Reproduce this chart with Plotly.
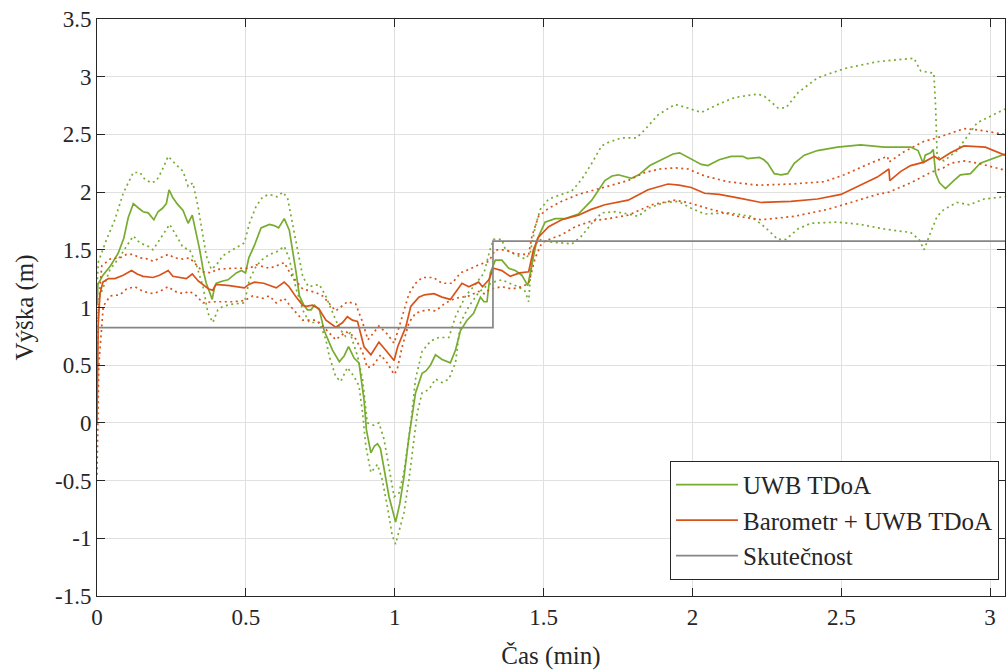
import plotly.graph_objects as go

# --- UWB TDoA estimate (min, m) ---
t_uwb = [0.0, 0.003, 0.02, 0.045, 0.071, 0.09, 0.105, 0.122, 0.14, 0.155, 0.172, 0.191, 0.205, 0.22, 0.233,
         0.242, 0.255, 0.269, 0.289, 0.306, 0.32, 0.333, 0.345, 0.357, 0.367, 0.38, 0.387, 0.395, 0.401, 0.423,
         0.44, 0.468, 0.485, 0.499, 0.51, 0.529, 0.551, 0.579, 0.595, 0.61, 0.629, 0.646, 0.657, 0.669, 0.68,
         0.695, 0.707, 0.719, 0.73, 0.747, 0.763, 0.78, 0.791, 0.814, 0.83, 0.845, 0.864, 0.88, 0.897, 0.905,
         0.92, 0.932, 0.942, 0.952, 0.964, 0.981, 1.003, 1.017, 1.031, 1.048, 1.07, 1.092, 1.105, 1.12, 1.137,
         1.159, 1.187, 1.204, 1.221, 1.243, 1.265, 1.288, 1.3, 1.31, 1.321, 1.338, 1.36, 1.383, 1.405, 1.427,
         1.447, 1.461, 1.477, 1.505, 1.539, 1.573, 1.617, 1.662, 1.706, 1.73, 1.751, 1.795, 1.82, 1.857, 1.895,
         1.935, 1.957, 1.996, 2.03, 2.052, 2.09, 2.13, 2.169, 2.185, 2.225, 2.24, 2.253, 2.275, 2.298, 2.32,
         2.342, 2.376, 2.42, 2.487, 2.565, 2.644, 2.733, 2.758, 2.775, 2.782, 2.8, 2.809, 2.817, 2.83, 2.85,
         2.878, 2.9, 2.934, 2.967, 3.05]
h_uwb = [1.02, 1.2, 1.28, 1.36, 1.47, 1.6, 1.78, 1.9, 1.86, 1.83, 1.82, 1.76, 1.83, 1.86, 1.9,
         2.02, 1.95, 1.9, 1.84, 1.73, 1.8, 1.65, 1.5, 1.32, 1.21, 1.12, 1.07, 1.18, 1.21, 1.23,
         1.24, 1.3, 1.32, 1.3, 1.43, 1.54, 1.69, 1.72, 1.71, 1.69, 1.77, 1.67, 1.5, 1.3, 1.1,
         1.02, 0.98, 0.98, 1.02, 0.98, 0.8, 0.7, 0.63, 0.53, 0.58, 0.66, 0.56, 0.52, 0.2, -0.06,
         -0.26, -0.2, -0.18, -0.22, -0.38, -0.64, -0.86, -0.7, -0.47, -0.12, 0.26, 0.43, 0.45, 0.5, 0.59,
         0.55, 0.52, 0.63, 0.8, 0.89, 0.95, 1.09, 1.05, 1.05, 1.3, 1.41, 1.41, 1.34, 1.32, 1.28,
         1.19, 1.38, 1.58, 1.74, 1.77, 1.77, 1.81, 1.93, 2.1, 2.14, 2.15, 2.12, 2.15, 2.23, 2.28,
         2.33, 2.34, 2.29, 2.24, 2.23, 2.28, 2.31, 2.31, 2.29, 2.3, 2.28, 2.25, 2.16, 2.15, 2.16,
         2.25, 2.32, 2.36, 2.39, 2.41, 2.39, 2.39, 2.36, 2.25, 2.32, 2.34, 2.37, 2.16, 2.08, 2.03,
         2.1, 2.15, 2.16, 2.25, 2.33]

# upper / lower bound of the UWB estimate
t_uwb_hi = [0.0, 0.004, 0.032, 0.06, 0.088, 0.122, 0.144, 0.161, 0.183, 0.2, 0.217, 0.239, 0.261, 0.289,
            0.306, 0.322, 0.339, 0.356, 0.367, 0.384, 0.401, 0.423, 0.456, 0.495, 0.512, 0.535, 0.557, 0.579,
            0.605, 0.624, 0.64, 0.663, 0.691, 0.71, 0.747, 0.77, 0.802, 0.82, 0.835, 0.85, 0.875, 0.892, 0.908,
            0.93, 0.947, 0.964, 0.981, 0.998, 1.014, 1.031, 1.054, 1.07, 1.092, 1.121, 1.148, 1.182, 1.204,
            1.238, 1.271, 1.3, 1.32, 1.332, 1.36, 1.372, 1.405, 1.438, 1.455, 1.472, 1.489, 1.517, 1.561,
            1.595, 1.628, 1.662, 1.695, 1.717, 1.762, 1.812, 1.84, 1.885, 1.941, 1.97, 2.03, 2.086, 2.142,
            2.22, 2.242, 2.287, 2.314, 2.354, 2.42, 2.51, 2.621, 2.744, 2.767, 2.811, 2.817, 2.822, 2.845,
            2.889, 2.956, 3.05]
h_uwb_hi = [1.15, 1.39, 1.59, 1.76, 1.99, 2.17, 2.17, 2.11, 2.08, 2.1, 2.18, 2.31, 2.25, 2.18,
            2.05, 2.08, 1.88, 1.62, 1.45, 1.33, 1.37, 1.45, 1.5, 1.56, 1.73, 1.88, 1.96, 1.98,
            1.96, 2.0, 1.95, 1.64, 1.27, 1.18, 1.2, 1.09, 0.89, 0.8, 0.75, 0.78, 0.58, 0.38, 0.0,
            -0.02, 0.0, -0.14, -0.38, -0.64, -0.61, -0.43, 0.0, 0.38, 0.62, 0.71, 0.74, 0.74, 0.92,
            1.1, 1.2, 1.3, 1.5, 1.59, 1.59, 1.5, 1.46, 1.42, 1.47, 1.7, 1.85, 1.94, 1.98,
            2.01, 2.11, 2.25, 2.4, 2.43, 2.47, 2.47, 2.54, 2.67, 2.76, 2.74, 2.69, 2.76, 2.82,
            2.85, 2.83, 2.73, 2.73, 2.86, 2.99, 3.07, 3.13, 3.16, 3.05, 3.03, 2.74, 2.31, 2.27,
            2.36, 2.6, 2.72]
t_uwb_lo = [0.0, 0.01, 0.044, 0.077, 0.099, 0.122, 0.144, 0.172, 0.188, 0.211, 0.244, 0.267, 0.289, 0.311,
            0.334, 0.356, 0.373, 0.389, 0.406, 0.423, 0.456, 0.495, 0.512, 0.535, 0.557, 0.579, 0.602, 0.629,
            0.646, 0.669, 0.691, 0.713, 0.747, 0.769, 0.78, 0.802, 0.819, 0.841, 0.864, 0.88, 0.892, 0.903,
            0.92, 0.942, 0.958, 0.975, 0.992, 1.003, 1.014, 1.031, 1.048, 1.065, 1.076, 1.092, 1.115, 1.137,
            1.159, 1.182, 1.204, 1.221, 1.249, 1.282, 1.305, 1.33, 1.36, 1.394, 1.416, 1.438, 1.45, 1.455,
            1.466, 1.483, 1.517, 1.561, 1.595, 1.628, 1.662, 1.695, 1.74, 1.784, 1.818, 1.851, 1.907, 1.952,
            1.996, 2.041, 2.119, 2.197, 2.242, 2.287, 2.314, 2.354, 2.398, 2.487, 2.565, 2.644, 2.733, 2.761,
            2.778, 2.8, 2.822, 2.845, 2.889, 2.93, 2.979, 3.05]
h_uwb_lo = [0.9, 1.1, 1.33, 1.44, 1.53, 1.62, 1.56, 1.53, 1.5, 1.59, 1.72, 1.62, 1.52, 1.5,
            1.37, 1.18, 0.95, 0.87, 0.98, 1.01, 1.03, 1.04, 1.24, 1.36, 1.42, 1.46, 1.48, 1.53,
            1.42, 1.16, 0.98, 0.87, 0.87, 0.72, 0.58, 0.4, 0.36, 0.48, 0.4, 0.32, 0.09, -0.2,
            -0.43, -0.36, -0.49, -0.72, -0.98, -1.05, -0.95, -0.78, -0.49, -0.14, 0.09, 0.26, 0.29, 0.38,
            0.35, 0.38, 0.52, 0.87, 1.01, 1.13, 1.18, 1.22, 1.24, 1.2, 1.18, 1.14, 1.05, 1.24,
            1.5, 1.59, 1.57, 1.56, 1.55, 1.62, 1.73, 1.82, 1.83, 1.81, 1.79, 1.86, 1.91, 1.92,
            1.86, 1.81, 1.82, 1.79, 1.7, 1.59, 1.59, 1.68, 1.73, 1.74, 1.72, 1.68, 1.65, 1.59,
            1.5, 1.65, 1.79, 1.85, 1.91, 1.89, 1.94, 1.96]

# --- Barometer + UWB TDoA fusion estimate ---
t_baro = [0.0, 0.004, 0.01, 0.02, 0.038, 0.06, 0.088, 0.116, 0.135, 0.155, 0.188, 0.21, 0.239, 0.255, 0.3,
          0.32, 0.34, 0.356, 0.375, 0.389, 0.4, 0.445, 0.495, 0.51, 0.529, 0.56, 0.602, 0.629, 0.645, 0.669,
          0.691, 0.702, 0.724, 0.745, 0.769, 0.802, 0.825, 0.841, 0.858, 0.875, 0.897, 0.92, 0.947, 0.97,
          0.998, 1.01, 1.037, 1.054, 1.081, 1.1, 1.132, 1.159, 1.187, 1.226, 1.249, 1.282, 1.295, 1.316,
          1.332, 1.36, 1.388, 1.42, 1.45, 1.466, 1.483, 1.517, 1.561, 1.617, 1.66, 1.706, 1.751, 1.784,
          1.851, 1.918, 1.955, 1.996, 2.041, 2.09, 2.153, 2.231, 2.331, 2.42, 2.499, 2.565, 2.621, 2.66,
          2.663, 2.7, 2.733, 2.778, 2.813, 2.83, 2.867, 2.912, 2.984, 3.05]
h_baro = [0.0, 0.85, 1.12, 1.22, 1.25, 1.25, 1.28, 1.32, 1.29, 1.27, 1.26, 1.28, 1.32, 1.27, 1.25,
          1.29, 1.23, 1.2, 1.16, 1.15, 1.2, 1.19, 1.17, 1.2, 1.22, 1.21, 1.17, 1.22, 1.18, 1.09,
          1.02, 1.01, 1.02, 0.99, 0.89, 0.83, 0.87, 0.92, 0.89, 0.88, 0.66, 0.59, 0.7, 0.63,
          0.54, 0.66, 0.83, 1.01, 1.09, 1.11, 1.12, 1.09, 1.07, 1.21, 1.18, 1.22, 1.18, 1.24,
          1.34, 1.32, 1.27, 1.3, 1.31, 1.5, 1.61, 1.7, 1.76, 1.8, 1.85, 1.89, 1.91, 1.93,
          2.02, 2.07, 2.06, 2.04, 1.99, 1.98, 1.95, 1.91, 1.92, 1.94, 1.98, 2.06, 2.13, 2.2,
          2.1, 2.18, 2.23, 2.26, 2.31, 2.28, 2.34, 2.4, 2.39, 2.32]

t_baro_hi = [0.0, 0.005, 0.016, 0.044, 0.077, 0.099, 0.122, 0.144, 0.172, 0.188, 0.211, 0.239, 0.261,
             0.289, 0.311, 0.334, 0.356, 0.384, 0.401, 0.456, 0.512, 0.535, 0.579, 0.602, 0.629, 0.65,
             0.691, 0.735, 0.758, 0.802, 0.841, 0.869, 0.891, 0.91, 0.947, 0.975, 0.998, 1.025, 1.048,
             1.07, 1.092, 1.13, 1.159, 1.193, 1.221, 1.249, 1.282, 1.316, 1.338, 1.372, 1.4, 1.427, 1.45,
             1.461, 1.483, 1.517, 1.561, 1.617, 1.673, 1.717, 1.784, 1.84, 1.89, 1.941, 1.985, 2.041,
             2.119, 2.22, 2.331, 2.443, 2.51, 2.588, 2.655, 2.66, 2.711, 2.778, 2.822, 2.867, 2.912,
             2.956, 3.05]
h_baro_hi = [0.35, 1.0, 1.36, 1.42, 1.43, 1.46, 1.46, 1.43, 1.42, 1.4, 1.43, 1.46, 1.43,
             1.42, 1.43, 1.37, 1.31, 1.3, 1.33, 1.34, 1.34, 1.37, 1.34, 1.36, 1.39, 1.29,
             1.16, 1.13, 1.1, 0.97, 1.05, 1.03, 0.88, 0.72, 0.84, 0.77, 0.69, 0.92, 1.12,
             1.21, 1.26, 1.26, 1.21, 1.21, 1.3, 1.33, 1.37, 1.4, 1.5, 1.5, 1.47, 1.46, 1.46,
             1.62, 1.79, 1.86, 1.92, 1.98, 2.02, 2.05, 2.1, 2.17, 2.2, 2.21, 2.2, 2.14,
             2.09, 2.06, 2.07, 2.09, 2.15, 2.24, 2.31, 2.26, 2.35, 2.44, 2.47, 2.51, 2.55,
             2.54, 2.5]
t_baro_lo = [0.0, 0.006, 0.021, 0.044, 0.077, 0.099, 0.127, 0.155, 0.188, 0.211, 0.239, 0.261, 0.289,
             0.311, 0.334, 0.356, 0.389, 0.456, 0.495, 0.523, 0.557, 0.579, 0.602, 0.629, 0.65, 0.691,
             0.735, 0.758, 0.802, 0.836, 0.864, 0.891, 0.908, 0.925, 0.953, 0.975, 0.998, 1.008, 1.025,
             1.048, 1.07, 1.092, 1.115, 1.137, 1.171, 1.204, 1.249, 1.282, 1.3, 1.32, 1.36, 1.394, 1.427,
             1.45, 1.472, 1.494, 1.528, 1.561, 1.606, 1.662, 1.717, 1.784, 1.863, 1.941, 1.985, 2.063,
             2.153, 2.231, 2.342, 2.454, 2.532, 2.621, 2.66, 2.733, 2.8, 2.843, 2.867, 2.912, 2.96, 3.05]
h_baro_lo = [-0.45, 0.5, 1.01, 1.1, 1.11, 1.16, 1.18, 1.14, 1.12, 1.14, 1.18, 1.14, 1.12,
             1.14, 1.1, 1.04, 1.05, 1.05, 1.06, 1.1, 1.08, 1.1, 1.04, 1.08, 1.01, 0.89,
             0.89, 0.84, 0.72, 0.79, 0.75, 0.62, 0.48, 0.49, 0.59, 0.52, 0.42, 0.46, 0.66,
             0.87, 0.95, 0.97, 0.98, 0.97, 1.04, 1.08, 1.1, 1.14, 1.12, 1.16, 1.18, 1.16, 1.18,
             1.21, 1.43, 1.56, 1.6, 1.63, 1.7, 1.75, 1.77, 1.8, 1.89, 1.93, 1.91, 1.85,
             1.79, 1.76, 1.79, 1.85, 1.91, 1.98, 2.0, 2.08, 2.17, 2.21, 2.25, 2.27, 2.25, 2.19]

# --- reference height (ground truth) ---
t_true = [0.0, 1.33, 1.33, 3.05]
h_true = [0.825, 0.825, 1.575, 1.575]

# axis ticks
x_ticks = [0, 0.5, 1, 1.5, 2, 2.5, 3]
x_labels = ["0", "0.5", "1", "1.5", "2", "2.5", "3"]
y_ticks = [-1.5, -1, -0.5, 0, 0.5, 1, 1.5, 2, 2.5, 3, 3.5]
y_labels = ["-1.5", "-1", "-0.5", "0", "0.5", "1", "1.5", "2", "2.5", "3", "3.5"]

GREEN = "#77AC30"
ORANGE = "#D95319"
GREY = "#868686"
DOTS = "2px,3.5px"
INK = "#262626"

fig = go.Figure()

for t, h in [(t_uwb_hi, h_uwb_hi), (t_uwb_lo, h_uwb_lo)]:
    fig.add_trace(go.Scatter(x=t, y=h, mode="lines", showlegend=False, hoverinfo="skip",
                             line=dict(color=GREEN, width=1.7, dash=DOTS)))
fig.add_trace(go.Scatter(x=t_uwb, y=h_uwb, mode="lines", name="UWB TDoA",
                         line=dict(color=GREEN, width=1.7)))
for t, h in [(t_baro_hi, h_baro_hi), (t_baro_lo, h_baro_lo)]:
    fig.add_trace(go.Scatter(x=t, y=h, mode="lines", showlegend=False, hoverinfo="skip",
                             line=dict(color=ORANGE, width=1.7, dash=DOTS)))
fig.add_trace(go.Scatter(x=t_baro, y=h_baro, mode="lines", name="Barometr + UWB TDoA",
                         line=dict(color=ORANGE, width=1.7)))
fig.add_trace(go.Scatter(x=t_true, y=h_true, mode="lines", name="Skutečnost",
                         line=dict(color=GREY, width=1.7)))

axis_common = dict(showline=True, linecolor=INK, linewidth=1, mirror="ticks",
                   ticks="inside", ticklen=8, tickcolor=INK, tickwidth=1,
                   showgrid=True, gridcolor="#e0e0e0", gridwidth=1, zeroline=False,
                   tickfont=dict(size=23, color=INK))

fig.update_xaxes(range=[0, 3.05], tickvals=x_ticks, ticktext=x_labels,
                 title=dict(text="Čas (min)", font=dict(size=25, color=INK), standoff=17),
                 **axis_common)
fig.update_yaxes(range=[-1.5, 3.5], tickvals=y_ticks, ticktext=y_labels,
                 title=dict(text="Výška (m)", font=dict(size=25, color=INK), standoff=14),
                 **axis_common)

fig.update_layout(
    width=1006, height=672,
    margin=dict(l=97, r=1, t=19, b=76),
    plot_bgcolor="white", paper_bgcolor="white",
    font=dict(family="Liberation Serif, DejaVu Serif, serif", size=23, color=INK),
    legend=dict(x=0.9934, xanchor="right", y=0.028, yanchor="bottom",
                bgcolor="white", bordercolor=INK, borderwidth=1,
                font=dict(size=25, color=INK), itemwidth=62),
)

fig.write_html("out.html")
